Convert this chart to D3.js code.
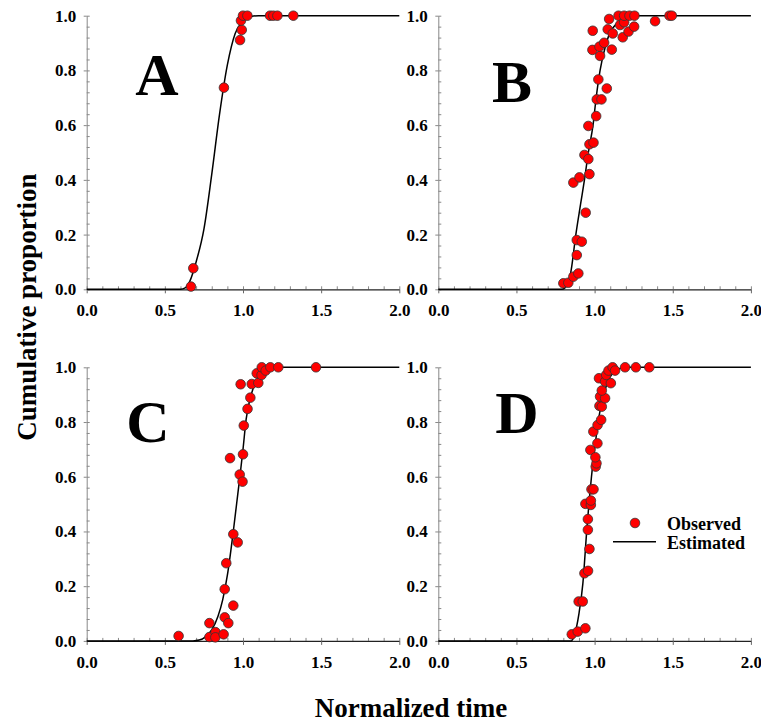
<!DOCTYPE html>
<html>
<head>
<meta charset="utf-8">
<script src="https://cdn.jsdelivr.net/npm/d3@7"></script>
<style>
  body { margin: 0; background: #fff; }
  svg text { font-family: "Liberation Serif", "Times New Roman", serif; font-weight: bold; }
</style>
</head>
<body>
<div id="chart"></div>
<script>
// tick labels
var xTicks = [0, 0.5, 1.0, 1.5, 2.0];
var yTicks = [0, 0.2, 0.4, 0.6, 0.8, 1.0];

// observed points [normalized time, cumulative proportion]
var obsA = [[0.667,0.01],[0.682,0.077],[0.878,0.737],[0.981,0.911],[0.992,0.948],[0.987,0.982],
  [1.0,1.0],[1.028,1.0],[1.173,1.0],[1.194,1.0],[1.22,1.0],[1.322,1.0]];
var obsB = [[0.80,0.022],[0.832,0.024],[0.864,0.046],[0.896,0.058],[0.886,0.125],[0.886,0.18],
  [0.918,0.174],[0.943,0.28],[0.864,0.39],[0.903,0.409],[0.967,0.421],[0.935,0.491],[0.96,0.476],
  [0.967,0.53],[0.993,0.536],[0.96,0.597],[1.01,0.633],[1.014,0.694],[1.044,0.694],[1.078,0.734],
  [1.024,0.767],[1.035,0.853],[0.986,0.875],[1.031,0.887],[1.061,0.901],[1.11,0.876],[0.988,0.945],
  [1.084,0.95],[1.093,0.988],[1.116,0.935],[1.153,1.0],[1.163,0.966],[1.189,0.976],[1.18,0.921],
  [1.189,1.0],[1.223,1.0],[1.255,1.0],[1.217,0.942],[1.253,0.96],[1.387,0.98],[1.479,1.0],[1.494,1.0]];
var obsC = [[0.588,0.018],[0.785,0.065],[0.785,0.014],[0.824,0.032],[0.823,0.013],[0.876,0.024],
  [0.883,0.086],[0.906,0.065],[0.938,0.129],[0.883,0.189],[0.893,0.284],[0.938,0.39],[0.966,0.36],
  [0.979,0.608],[0.997,0.582],[0.917,0.668],[1.0,0.682],[1.005,0.787],[1.029,0.848],[1.047,0.889],
  [0.985,0.938],[1.056,0.939],[1.098,0.943],[1.088,0.978],[1.119,0.972],[1.12,1.0],[1.145,0.988],
  [1.175,1.0],[1.226,1.0],[1.467,1.0]];
var obsD = [[0.854,0.024],[0.892,0.034],[0.941,0.046],[0.898,0.144],[0.924,0.144],[0.935,0.247],
  [0.958,0.256],[0.967,0.336],[0.957,0.406],[0.957,0.445],[0.941,0.501],[0.976,0.497],[0.976,0.513],
  [0.98,0.554],[0.993,0.554],[0.973,0.698],[1.007,0.637],[1.012,0.649],[1.005,0.671],[1.018,0.722],
  [0.992,0.765],[1.019,0.789],[1.042,0.808],[1.031,0.859],[1.046,0.856],[1.035,0.893],[1.067,0.887],
  [1.046,0.915],[1.028,0.96],[1.067,0.948],[1.104,0.942],[1.074,0.972],[1.089,0.988],[1.115,1.0],
  [1.131,0.988],[1.195,1.0],[1.264,1.0],[1.35,1.0]];

// estimated curves
var estA = [[0,0],[0.6,0],[0.63,0.005],[0.66,0.03],[0.7,0.1],[0.75,0.22],[0.8,0.42],[0.85,0.64],
  [0.9,0.82],[0.95,0.935],[1.0,0.98],[1.05,0.997],[1.1,1],[2,1]];
var estB = [[0,0],[0.79,0],[0.81,0.005],[0.83,0.02],[0.85,0.07],[0.88,0.2],[0.91,0.31],[0.935,0.4],
  [0.96,0.5],[0.99,0.6],[1.01,0.7],[1.035,0.8],[1.075,0.9],[1.1,0.94],[1.14,0.97],[1.18,0.99],[1.25,1],[2,1]];
var estC = [[0,0],[0.68,0],[0.72,0.003],[0.76,0.015],[0.8,0.04],[0.84,0.09],[0.87,0.15],[0.9,0.24],
  [0.94,0.41],[0.96,0.505],[0.98,0.6],[1.0,0.7],[1.02,0.81],[1.055,0.905],[1.1,0.966],[1.14,0.99],[1.2,1],[2,1]];
var estD = [[0,0],[0.85,0],[0.87,0.02],[0.9,0.1],[0.925,0.21],[0.95,0.405],[0.965,0.51],[0.98,0.6],
  [1.0,0.7],[1.025,0.81],[1.06,0.905],[1.1,0.966],[1.14,0.99],[1.2,1],[2,1]];

var panelNames = ["A", "B", "C", "D"];

// dimensions
var W = 761, H = 724,
    pw = 312.6, ph = 273.6;

var panels = [
  {name: panelNames[0], obs: obsA, est: estA, left: 86.7, top: 15.7, lx: 157, ly: 95},
  {name: panelNames[1], obs: obsB, est: estB, left: 438.3, top: 15.7, lx: 512, ly: 102},
  {name: panelNames[2], obs: obsC, est: estC, left: 86.7, top: 367.3, lx: 148, ly: 442},
  {name: panelNames[3], obs: obsD, est: estD, left: 438.3, top: 367.3, lx: 517, ly: 433}
];

var svg = d3.select("#chart")
  .append("svg")
    .attr("width", W)
    .attr("height", H);

var x = d3.scaleLinear().domain([0, 2]).range([0, pw]);
var y = d3.scaleLinear().domain([0, 1]).range([ph, 0]);

var line = d3.line()
  .curve(d3.curveMonotoneX)
  .x(function(d) { return x(d[0]); })
  .y(function(d) { return y(d[1]); });

var serif = "'Liberation Serif', 'Times New Roman', serif";

panels.forEach(function(p) {
  var g = svg.append("g")
    .attr("transform", "translate(" + p.left + "," + p.top + ")");

  // y axis: minor ticks inside, major outside
  g.append("g")
    .call(d3.axisLeft(y).tickValues(d3.range(0, 1.001, 0.04)).tickSize(-3).tickFormat(""))
    .call(function(a) { a.select(".domain").remove(); a.selectAll("line").attr("stroke", "#888"); });
  var ya = g.append("g")
    .call(d3.axisLeft(y).tickValues(yTicks).tickSize(3).tickSizeOuter(0).tickPadding(7.5)
      .tickFormat(d3.format(".1f")))
    .attr("font-family", serif)
    .attr("font-size", 17)
    .attr("font-weight", "bold");
  ya.select(".domain").attr("stroke", "#888");
  ya.selectAll("line").attr("stroke", "#888");
  ya.selectAll("text").attr("fill", "#000");

  // x axis
  g.append("g")
    .attr("transform", "translate(0," + ph + ")")
    .call(d3.axisBottom(x).tickValues(d3.range(0, 2.001, 0.1)).tickSize(-3).tickFormat(""))
    .call(function(a) { a.select(".domain").remove(); a.selectAll("line").attr("stroke", "#888"); });
  var xa = g.append("g")
    .attr("transform", "translate(0," + ph + ")")
    .call(d3.axisBottom(x).tickValues(xTicks).tickSize(4).tickSizeOuter(0).tickPadding(11)
      .tickFormat(d3.format(".1f")))
    .attr("font-family", serif)
    .attr("font-size", 17)
    .attr("font-weight", "bold");
  xa.select(".domain").attr("stroke", "#222").attr("stroke-width", 1.3);
  xa.selectAll("line").attr("stroke", "#666");
  xa.selectAll("text").attr("fill", "#000");

  // estimated curve
  g.append("path")
    .datum(p.est)
    .attr("fill", "none")
    .attr("stroke", "#000")
    .attr("stroke-width", 1.5)
    .attr("d", line);

  // observed points
  g.selectAll("circle")
    .data(p.obs)
    .enter().append("circle")
      .attr("cx", function(d) { return x(d[0]); })
      .attr("cy", function(d) { return y(d[1]); })
      .attr("r", 4.8)
      .attr("fill", "#ff0000")
      .attr("stroke", "#333")
      .attr("stroke-width", 0.8);

  // panel letter
  svg.append("text")
    .attr("x", p.lx)
    .attr("y", p.ly)
    .attr("text-anchor", "middle")
    .attr("font-size", 60)
    .text(p.name);
});

// legend
svg.append("circle")
  .attr("cx", 635).attr("cy", 523).attr("r", 4.8)
  .attr("fill", "#ff0000").attr("stroke", "#333").attr("stroke-width", 0.8);
svg.append("text")
  .attr("x", 667).attr("y", 529.5)
  .attr("font-size", 18)
  .text("Observed");
svg.append("line")
  .attr("x1", 613).attr("x2", 656).attr("y1", 541.7).attr("y2", 541.7)
  .attr("stroke", "#000").attr("stroke-width", 1.5);
svg.append("text")
  .attr("x", 667).attr("y", 548.5)
  .attr("font-size", 18)
  .text("Estimated");

// axis titles
svg.append("text")
  .attr("transform", "translate(36,307) rotate(-90)")
  .attr("text-anchor", "middle")
  .attr("font-size", 27)
  .text("Cumulative proportion");

svg.append("text")
  .attr("x", 411)
  .attr("y", 717)
  .attr("text-anchor", "middle")
  .attr("font-size", 27)
  .text("Normalized time");
</script>
</body>
</html>
